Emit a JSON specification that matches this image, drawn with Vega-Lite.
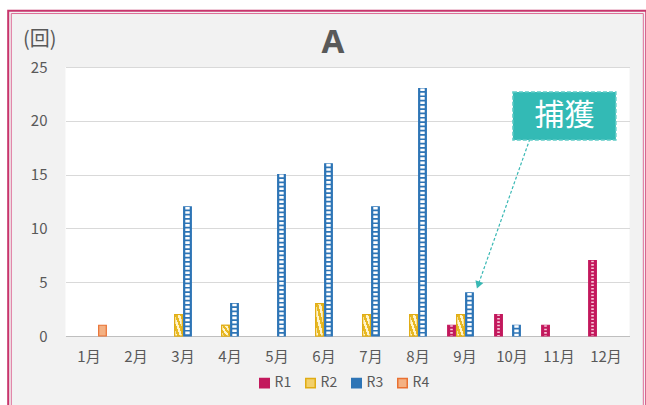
{
  "$schema": "https://vega.github.io/schema/vega-lite/v6.json",
  "width": 564,
  "height": 269,
  "autosize": {"type": "none"},
  "padding": {"left": 65.5, "top": 67, "right": 16.5, "bottom": 69},
  "background": "#f2f2f2",
  "config": {
    "view": {"fill": "white", "stroke": null},
    "font": "Noto Sans CJK JP"
  },
  "title": {
    "text": "A",
    "font": "Noto Sans",
    "fontSize": 33,
    "fontWeight": "bold",
    "color": "#595959",
    "anchor": "middle",
    "dx": -14.5,
    "offset": -64
  },
  "datasets": {
    "counts": [
      {"month": "1月", "series": "R4", "value": 1},
      {"month": "3月", "series": "R2", "value": 2},
      {"month": "3月", "series": "R3", "value": 12},
      {"month": "4月", "series": "R2", "value": 1},
      {"month": "4月", "series": "R3", "value": 3},
      {"month": "5月", "series": "R3", "value": 15},
      {"month": "6月", "series": "R2", "value": 3},
      {"month": "6月", "series": "R3", "value": 16},
      {"month": "7月", "series": "R2", "value": 2},
      {"month": "7月", "series": "R3", "value": 12},
      {"month": "8月", "series": "R2", "value": 2},
      {"month": "8月", "series": "R3", "value": 23},
      {"month": "9月", "series": "R1", "value": 1},
      {"month": "9月", "series": "R2", "value": 2},
      {"month": "9月", "series": "R3", "value": 4},
      {"month": "10月", "series": "R1", "value": 2},
      {"month": "10月", "series": "R3", "value": 1},
      {"month": "11月", "series": "R1", "value": 1},
      {"month": "12月", "series": "R1", "value": 7}
    ],
    "frame": [
      {"part": "mask", "x": -0.889, "x2": 13.2, "y": 30.97, "y2": -7.81},
      {"part": "outer", "x": -0.719, "x2": 12.857, "y": 30.22, "y2": -7.81},
      {"part": "inner", "x": -0.653, "x2": 12.794, "y": 29.97, "y2": -7.81}
    ],
    "callout": [
      {"label": "捕獲", "x": 10.02, "x2": 12.21, "y": 22.68, "y2": 18.22, "tx": 11.115, "ty": 20.45}
    ],
    "arrow": [
      {"x": 10.38, "y": 18.31, "x2": 9.28, "y2": 4.74}
    ]
  },
  "layer": [
    {
      "data": {"name": "counts"},
      "encoding": {
        "x": {
          "field": "month",
          "type": "nominal",
          "sort": null,
          "scale": {
            "domain": ["1月", "2月", "3月", "4月", "5月", "6月", "7月", "8月", "9月", "10月", "11月", "12月"],
            "paddingInner": 0,
            "paddingOuter": 0
          },
          "axis": {
            "title": null,
            "labelAngle": 0,
            "labelFontSize": 15,
            "labelColor": "#595959",
            "labelPadding": 13,
            "ticks": false,
            "domainColor": "#bfbfbf",
            "domainWidth": 1,
            "grid": false
          }
        },
        "xOffset": {
          "field": "series",
          "type": "nominal",
          "scale": {"domain": ["R1", "R2", "R3", "R4"], "paddingInner": 0.15, "paddingOuter": 0.69}
        },
        "y": {
          "field": "value",
          "type": "quantitative",
          "scale": {"domain": [0, 25], "nice": false},
          "axis": {
            "title": "(回)",
            "titleAngle": 0,
            "titleX": -43,
            "titleY": -22,
            "titleAlign": "left",
            "titleBaseline": "alphabetic",
            "titleFontSize": 20,
            "titleFontWeight": "normal",
            "titleColor": "#595959",
            "values": [0, 5, 10, 15, 20, 25],
            "labelFontSize": 15,
            "labelColor": "#595959",
            "labelPadding": 18.5,
            "ticks": false,
            "domain": false,
            "gridColor": "#d9d9d9",
            "gridWidth": 1
          }
        }
      },
      "layer": [
        {
          "mark": {"type": "bar", "strokeWidth": 1.2},
          "encoding": {
            "fill": {
              "field": "series",
              "type": "nominal",
              "scale": {"domain": ["R1", "R2", "R3", "R4"], "range": ["#c3195d", "#f3d06a", "#2e75b6", "#f4b183"]},
              "legend": {
                "title": null,
                "orient": "none",
                "direction": "horizontal",
                "legendX": 192,
                "legendY": 309,
                "symbolType": "square",
                "symbolSize": 90,
                "symbolStrokeWidth": 1.5,
                "labelFontSize": 14,
                "labelColor": "#595959",
                "labelOffset": 3,
                "columnPadding": 11,
                "padding": 0
              }
            },
            "stroke": {
              "field": "series",
              "type": "nominal",
              "scale": {"domain": ["R1", "R2", "R3", "R4"], "range": ["#c3195d", "#e0ac14", "#2e75b6", "#e97132"]},
              "legend": {
                "title": null,
                "orient": "none",
                "direction": "horizontal",
                "legendX": 192,
                "legendY": 309,
                "symbolType": "square",
                "symbolSize": 90,
                "labelFontSize": 14,
                "labelColor": "#595959",
                "labelOffset": 3,
                "columnPadding": 11,
                "padding": 0
              }
            }
          }
        },
        {
          "transform": [{"filter": "datum.series === 'R2'"}],
          "mark": {
            "type": "bar",
            "stroke": "#e0ac14",
            "strokeWidth": 1.2,
            "fill": {
              "gradient": "linear",
              "x1": 1, "y1": 0, "x2": 0, "y2": 1,
              "stops": [
                {"offset": 0, "color": "#e8b923"},
                {"offset": 0.16, "color": "#e8b923"},
                {"offset": 0.16, "color": "#fff4cc"},
                {"offset": 0.33, "color": "#fff4cc"},
                {"offset": 0.33, "color": "#e8b923"},
                {"offset": 0.5, "color": "#e8b923"},
                {"offset": 0.5, "color": "#fff4cc"},
                {"offset": 0.66, "color": "#fff4cc"},
                {"offset": 0.66, "color": "#e8b923"},
                {"offset": 0.83, "color": "#e8b923"},
                {"offset": 0.83, "color": "#fff4cc"},
                {"offset": 1, "color": "#fff4cc"}
              ]
            }
          },
          "encoding": {}
        },
        {
          "transform": [{"filter": "datum.series === 'R3'"}],
          "mark": {"type": "rule", "color": "white", "strokeWidth": 4.4, "strokeDash": [2.6, 1.7], "strokeCap": "butt"},
          "encoding": {"y2": {"datum": 0}}
        },
        {
          "transform": [{"filter": "datum.series === 'R1'"}],
          "mark": {"type": "rule", "color": "#f7c6d8", "strokeWidth": 2.6, "strokeDash": [1.6, 1.8], "strokeCap": "butt"},
          "encoding": {"y2": {"datum": 0}}
        }
      ]
    },
    {
      "encoding": {
        "x": {"type": "quantitative", "scale": {"domain": [0.5, 12.5], "nice": false, "zero": false}, "axis": null},
        "y": {"type": "quantitative", "scale": {"domain": [0, 25], "nice": false}, "axis": null}
      },
      "layer": [
        {
          "data": {"name": "frame"},
          "transform": [{"filter": "datum.part === 'mask'"}],
          "mark": {"type": "rect", "fill": null, "stroke": "white", "strokeWidth": 14},
          "encoding": {
            "x": {"field": "x", "type": "quantitative"},
            "x2": {"field": "x2"},
            "y": {"field": "y", "type": "quantitative"},
            "y2": {"field": "y2"}
          }
        },
        {
          "data": {"name": "frame"},
          "transform": [{"filter": "datum.part === 'outer'"}],
          "mark": {"type": "rect", "fill": null, "stroke": "#c8356c", "strokeWidth": 2},
          "encoding": {
            "x": {"field": "x", "type": "quantitative"},
            "x2": {"field": "x2"},
            "y": {"field": "y", "type": "quantitative"},
            "y2": {"field": "y2"}
          }
        },
        {
          "data": {"name": "frame"},
          "transform": [{"filter": "datum.part === 'inner'"}],
          "mark": {"type": "rect", "fill": null, "stroke": "#de6d98", "strokeWidth": 1},
          "encoding": {
            "x": {"field": "x", "type": "quantitative"},
            "x2": {"field": "x2"},
            "y": {"field": "y", "type": "quantitative"},
            "y2": {"field": "y2"}
          }
        },
        {
          "data": {"name": "arrow"},
          "mark": {"type": "rule", "color": "#38b8b4", "strokeWidth": 1.2, "strokeDash": [3, 2]},
          "encoding": {
            "x": {"field": "x", "type": "quantitative"},
            "x2": {"field": "x2"},
            "y": {"field": "y", "type": "quantitative"},
            "y2": {"field": "y2"}
          }
        },
        {
          "data": {"name": "arrow"},
          "mark": {"type": "point", "shape": "triangle-up", "angle": 200, "size": 70, "filled": true, "color": "#38b8b4", "opacity": 1},
          "encoding": {
            "x": {"field": "x2", "type": "quantitative"},
            "y": {"field": "y2", "type": "quantitative"}
          }
        },
        {
          "data": {"name": "callout"},
          "mark": {"type": "rect", "fill": "#33bab5", "stroke": "#5fcbc6", "strokeWidth": 1.5, "strokeDash": [4, 2]},
          "encoding": {
            "x": {"field": "x", "type": "quantitative"},
            "x2": {"field": "x2"},
            "y": {"field": "y", "type": "quantitative"},
            "y2": {"field": "y2"}
          }
        },
        {
          "data": {"name": "callout"},
          "mark": {"type": "text", "color": "white", "fontSize": 30, "font": "Noto Sans CJK JP", "align": "center", "baseline": "middle"},
          "encoding": {
            "x": {"field": "tx", "type": "quantitative"},
            "y": {"field": "ty", "type": "quantitative"},
            "text": {"field": "label"}
          }
        }
      ]
    }
  ],
  "resolve": {"scale": {"x": "independent", "y": "independent"}}
}
